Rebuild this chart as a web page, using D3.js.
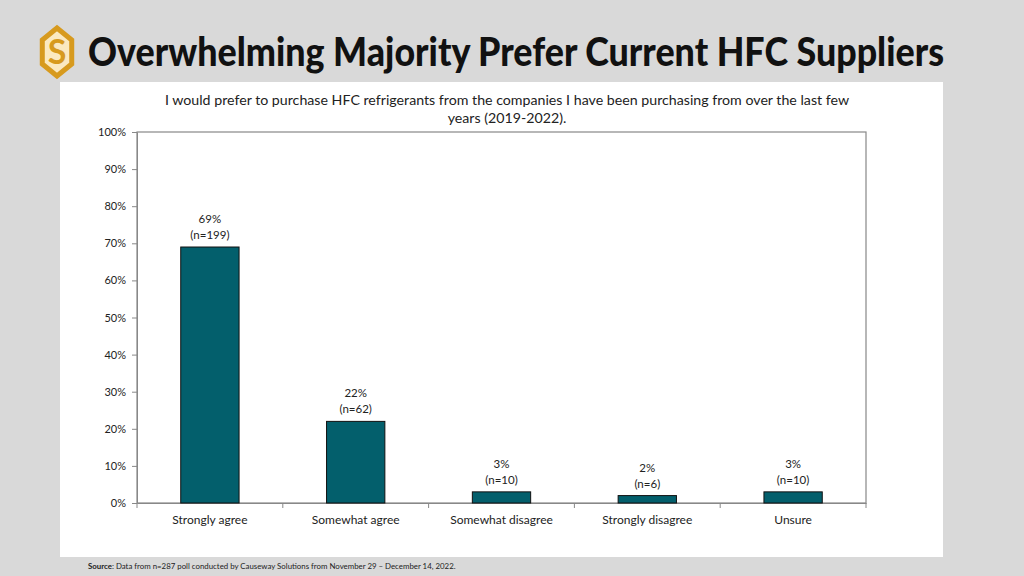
<!DOCTYPE html>
<html>
<head>
<meta charset="utf-8">
<script src="https://cdn.jsdelivr.net/npm/d3@7"></script>
<style>
  body { margin: 0; background: #d9d9d9; }
  svg { display: block; font-family: Lato, "Open Sans", sans-serif; }
</style>
</head>
<body>
<div id="chart"></div>
<script>
var categories = ["Strongly agree", "Somewhat agree", "Somewhat disagree", "Strongly disagree", "Unsure"];
var values = [0.69, 0.22, 0.03, 0.02, 0.03];
var counts = [199, 62, 10, 6, 10];
var pctLabels = ["69%", "22%", "3%", "2%", "3%"];
var yTicks = [0, 0.1, 0.2, 0.3, 0.4, 0.5, 0.6, 0.7, 0.8, 0.9, 1.0];

var W = 1024, H = 576;
var svg = d3.select("#chart").append("svg")
  .attr("width", W).attr("height", H);

svg.append("rect").attr("width", W).attr("height", H).attr("fill", "#d9d9d9");

// logo
var logo = svg.append("g").attr("transform", "translate(57,52)");
var hex = d3.range(6).map(function(i) {
  var a = Math.PI / 3 * i + Math.PI / 6;
  return [Math.cos(a) * 17, Math.sin(a) * 24];
});
logo.append("polygon")
  .attr("points", hex.map(function(p) { return p.join(","); }).join(" "))
  .attr("fill", "#fbe9c0").attr("stroke", "#d79a1e").attr("stroke-width", 5);
logo.append("text")
  .attr("text-anchor", "middle").attr("y", 12)
  .attr("font-size", 34).attr("font-weight", "bold")
  .attr("fill", "#d79a1e").text("S");

// main title
svg.append("text")
  .attr("x", 88).attr("y", 66)
  .attr("font-size", 39).attr("font-weight", 900)
  .attr("fill", "#111")
  .attr("textLength", 856).attr("lengthAdjust", "spacingAndGlyphs")
  .text("Overwhelming Majority Prefer Current HFC Suppliers");

// white panel
svg.append("rect")
  .attr("x", 60).attr("y", 82).attr("width", 883).attr("height", 475)
  .attr("fill", "#fff");

// chart title
var titleLines = ["I would prefer to purchase HFC refrigerants from the companies I have been purchasing from over the last few",
  "years (2019-2022)."];
svg.append("g").selectAll("text").data(titleLines).join("text")
  .attr("x", 507).attr("y", function(d, i) { return 105 + i * 18; })
  .attr("text-anchor", "middle").attr("font-size", 14.2).attr("fill", "#222")
  .text(function(d) { return d; });

var margin = {left: 137, top: 132, right: 866, bottom: 503};

var x = d3.scaleBand()
  .domain(categories)
  .range([margin.left, margin.right])
  .paddingInner(0.6).paddingOuter(0.3);

var y = d3.scaleLinear().domain([0, 1]).range([margin.bottom, margin.top]);

// plot border
svg.append("rect")
  .attr("x", margin.left).attr("y", margin.top)
  .attr("width", margin.right - margin.left).attr("height", margin.bottom - margin.top)
  .attr("fill", "none").attr("stroke", "#888").attr("stroke-width", 1.2);

// y axis
var yAxis = svg.append("g")
  .attr("transform", "translate(" + margin.left + ",0)")
  .call(d3.axisLeft(y).tickValues(yTicks).tickFormat(d3.format(".0%")).tickSize(5).tickSizeOuter(0).tickPadding(6));
yAxis.select(".domain").attr("stroke", "#888");
yAxis.selectAll(".tick line").attr("stroke", "#888");
yAxis.selectAll("text").attr("font-size", 11).attr("fill", "#222").attr("font-family", "Lato, sans-serif");

// x axis
var step = (margin.right - margin.left) / categories.length;
var xAxis = svg.append("g")
  .attr("transform", "translate(0," + margin.bottom + ")")
  .call(d3.axisBottom(x).tickSize(0).tickPadding(12));
xAxis.select(".domain").attr("stroke", "#888");
xAxis.selectAll("text").attr("font-size", 12).attr("fill", "#222").attr("font-family", "Lato, sans-serif");
xAxis.selectAll(".sep").data(d3.range(categories.length + 1)).join("line")
  .attr("class", "sep")
  .attr("x1", function(d) { return margin.left + d * step; })
  .attr("x2", function(d) { return margin.left + d * step; })
  .attr("y1", 0).attr("y2", 5)
  .attr("stroke", "#888");

// bars
svg.append("g").selectAll("rect").data(values).join("rect")
  .attr("x", function(d, i) { return x(categories[i]); })
  .attr("y", function(d) { return y(d); })
  .attr("width", x.bandwidth())
  .attr("height", function(d) { return y(0) - y(d); })
  .attr("fill", "#035f6c").attr("stroke", "#111").attr("stroke-width", 1);

// value labels
var lab = svg.append("g").selectAll("g").data(values).join("g")
  .attr("transform", function(d, i) {
    return "translate(" + (x(categories[i]) + x.bandwidth() / 2) + "," + y(d) + ")";
  });
lab.append("text").attr("y", -24).attr("text-anchor", "middle")
  .attr("font-size", 11.5).attr("fill", "#222")
  .text(function(d, i) { return pctLabels[i]; });
lab.append("text").attr("y", -8).attr("text-anchor", "middle")
  .attr("font-size", 11.5).attr("fill", "#222")
  .text(function(d, i) { return "(n=" + counts[i] + ")"; });

// source
var src = svg.append("text").attr("x", 88).attr("y", 569)
  .attr("font-size", 7.85).attr("fill", "#222");
src.append("tspan").attr("font-weight", "bold").text("Source");
src.append("tspan").text(": Data from n=287 poll conducted by Causeway Solutions from November 29 \u2013 December 14, 2022.");
</script>
</body>
</html>
